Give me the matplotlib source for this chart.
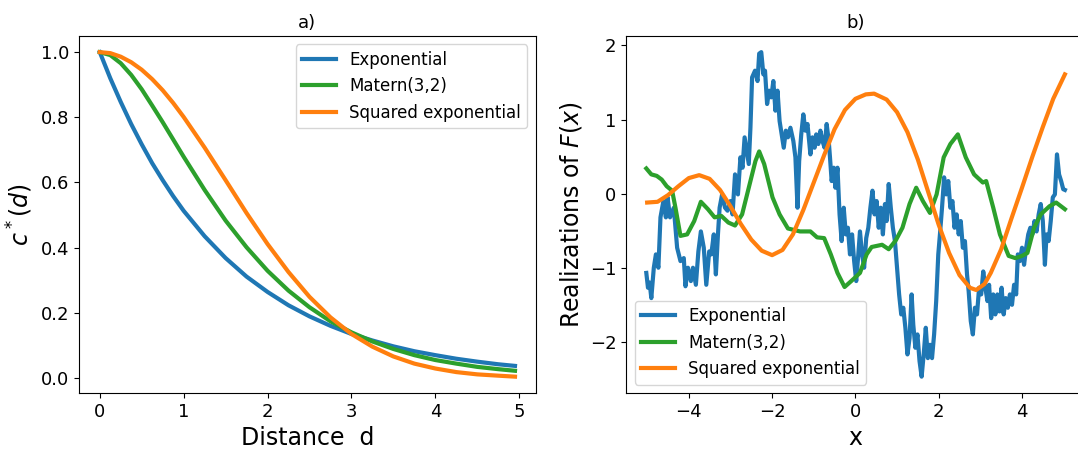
import matplotlib
matplotlib.use("Agg")
import matplotlib.pyplot as plt

# ---------------- panel a) covariance functions ----------------
d_vals = [0.0, 0.125, 0.25, 0.375, 0.5, 0.625, 0.75, 0.875, 1.0, 1.25, 1.5,
          1.75, 2.0, 2.25, 2.5, 2.75, 3.0, 3.25, 3.5, 3.75, 4.0, 4.25, 4.5,
          4.75, 4.95]
cov_exponential = [1.0, 0.920, 0.847, 0.779, 0.717, 0.659, 0.607, 0.558, 0.513,
                   0.435, 0.368, 0.311, 0.264, 0.223, 0.189, 0.160, 0.135,
                   0.115, 0.097, 0.082, 0.070, 0.059, 0.050, 0.042, 0.037]
cov_matern = [1.0, 0.991, 0.966, 0.930, 0.886, 0.836, 0.785, 0.732, 0.679,
              0.577, 0.483, 0.401, 0.329, 0.268, 0.217, 0.174, 0.140, 0.112,
              0.089, 0.070, 0.055, 0.044, 0.034, 0.027, 0.022]
cov_sqexp = [1.0, 0.997, 0.986, 0.969, 0.946, 0.917, 0.883, 0.844, 0.801,
             0.707, 0.607, 0.506, 0.411, 0.325, 0.249, 0.186, 0.135, 0.096,
             0.066, 0.044, 0.029, 0.018, 0.011, 0.007, 0.004]

# ---------------- panel b) realizations ----------------
x_exp = [-5.02, -4.98, -4.94, -4.90, -4.84, -4.79, -4.73, -4.68, -4.61, -4.55,
         -4.51, -4.45, -4.36, -4.28, -4.20, -4.12, -4.08, -4.02, -3.95, -3.90,
         -3.83, -3.77, -3.71, -3.64, -3.58, -3.51, -3.46, -3.40, -3.35, -3.30,
         -3.26, -3.20, -3.13, -3.07, -3.00, -2.95, -2.89, -2.82, -2.76, -2.71,
         -2.66, -2.61, -2.56, -2.52, -2.48, -2.41, -2.35, -2.31, -2.26, -2.21,
         -2.17, -2.12, -2.07, -2.02, -1.97, -1.92, -1.87, -1.82, -1.77, -1.72,
         -1.67, -1.62, -1.56, -1.49, -1.44, -1.39, -1.35, -1.30, -1.25, -1.20,
         -1.15, -1.08, -1.03, -0.98, -0.94, -0.89, -0.84, -0.79, -0.74, -0.69,
         -0.64, -0.61, -0.57, -0.52, -0.48, -0.43, -0.38, -0.33, -0.28, -0.23,
         -0.18, -0.13, -0.08, -0.03, 0.02, 0.07, 0.11, 0.16, 0.21, 0.26,
         0.31, 0.36, 0.41, 0.46, 0.51, 0.56, 0.61, 0.66, 0.71, 0.75,
         0.80, 0.85, 0.90, 0.95, 1.00, 1.05, 1.10, 1.15, 1.20, 1.25,
         1.30, 1.35, 1.39, 1.44, 1.49, 1.54, 1.59, 1.64, 1.69, 1.74,
         1.79, 1.84, 1.89, 1.94, 1.99, 2.03, 2.08, 2.13, 2.18, 2.23,
         2.28, 2.33, 2.38, 2.43, 2.48, 2.53, 2.58, 2.63, 2.68, 2.72,
         2.77, 2.82, 2.87, 2.92, 2.97, 3.02, 3.07, 3.12, 3.17, 3.21,
         3.26, 3.31, 3.36, 3.41, 3.46, 3.51, 3.56, 3.61, 3.66, 3.71,
         3.76, 3.81, 3.86, 3.90, 3.95, 4.00, 4.05, 4.10, 4.15, 4.20,
         4.25, 4.30, 4.35, 4.40, 4.45, 4.50, 4.55, 4.59, 4.64, 4.69,
         4.74, 4.79, 4.84, 4.89, 4.94, 4.99, 5.03]
y_exp = [-1.07, -1.27, -1.20, -1.41, -1.00, -0.82, -1.00, -0.32, -0.10, -0.32,
         -0.05, -0.32, -0.19, -0.73, -0.91, -0.87, -1.25, -1.00, -1.18, -1.00,
         -1.23, -0.78, -0.51, -0.73, -1.23, -0.78, -0.82, -0.55, -1.09, -0.55,
         -0.19, -0.01, -0.19, -0.23, -0.10, -0.28, 0.26, -0.01, 0.49, 0.35,
         0.76, 0.58, 0.40, 0.89, 1.57, 1.66, 1.52, 1.89, 1.91, 1.61,
         1.66, 1.21, 1.39, 1.30, 1.52, 1.12, 1.39, 0.98, 0.80, 0.62,
         0.85, 0.76, 0.89, 0.71, 0.49, -0.19, 0.44, 0.80, 1.07, 0.85,
         0.94, 0.53, 0.76, 0.62, 0.80, 0.67, 0.85, 0.71, 0.62, 0.94,
         0.71, 0.49, 0.17, 0.35, 0.08, 0.35, -0.28, -0.64, -0.19, -0.55,
         -0.46, -0.82, -0.55, -0.91, -1.18, -0.82, -0.51, -0.82, -1.00, -0.60,
         -0.46, -0.19, 0.04, -0.28, -0.10, -0.46, -0.19, -0.55, -0.14, -0.37,
         0.13, -0.19, -0.46, -0.64, -1.00, -1.36, -1.63, -1.54, -1.81, -2.17,
         -1.95, -1.36, -1.77, -2.08, -1.90, -2.26, -2.47, -2.17, -1.81, -2.22,
         -2.04, -2.22, -1.90, -1.45, -0.82, -0.55, -0.19, 0.22, -0.01, 0.17,
         -0.19, -0.10, -0.46, -0.28, -0.55, -0.37, -0.73, -0.64, -1.09, -1.32,
         -1.72, -1.90, -1.54, -1.63, -1.27, -1.36, -1.05, -1.27, -1.45, -1.23,
         -1.68, -1.36, -1.63, -1.36, -1.59, -1.27, -1.63, -1.41, -1.54, -1.36,
         -1.50, -1.23, -1.36, -0.82, -0.91, -0.73, -0.96, -0.73, -0.55, -0.46,
         -0.55, -0.37, -0.51, -0.28, -0.14, -0.37, -0.96, -0.55, -0.64, -0.37,
         -0.05, -0.01, 0.53, 0.26, 0.17, 0.06, 0.05]

x_mat = [-5.02, -4.90, -4.77, -4.65, -4.53, -4.40, -4.32, -4.20, -4.04, -3.87,
         -3.71, -3.54, -3.38, -3.22, -3.05, -2.89, -2.72, -2.56, -2.40, -2.31,
         -2.19, -1.99, -1.82, -1.62, -1.33, -1.08, -0.92, -0.75, -0.59, -0.43,
         -0.26, -0.10, 0.11, 0.27, 0.39, 0.64, 0.80, 0.97, 1.13, 1.30,
         1.46, 1.62, 1.79, 1.95, 2.12, 2.28, 2.46, 2.65, 2.85, 3.06,
         3.14, 3.31, 3.47, 3.68, 3.84, 4.00, 4.13, 4.29, 4.45, 4.66,
         4.82, 5.03]
y_mat = [0.34, 0.26, 0.24, 0.19, 0.10, 0.04, -0.19, -0.57, -0.55, -0.37,
         -0.11, -0.21, -0.32, -0.30, -0.39, -0.43, -0.28, 0.08, 0.44, 0.57,
         0.40, -0.05, -0.28, -0.47, -0.51, -0.51, -0.59, -0.60, -0.82, -1.07,
         -1.26, -1.18, -1.07, -0.82, -0.72, -0.69, -0.75, -0.63, -0.46, -0.14,
         0.08, -0.10, -0.26, -0.01, 0.49, 0.67, 0.80, 0.49, 0.26, 0.15,
         0.17, -0.19, -0.55, -0.84, -0.87, -0.84, -0.80, -0.46, -0.28, -0.17,
         -0.12, -0.21]

x_sq = [-5.0, -4.75, -4.5, -4.25, -4.0, -3.75, -3.5, -3.25, -3.0, -2.75,
        -2.5, -2.25, -2.0, -1.75, -1.5, -1.25, -1.0, -0.75, -0.5, -0.25,
        0.0, 0.25, 0.45, 0.75, 1.0, 1.25, 1.5, 1.75, 2.0, 2.25,
        2.5, 2.75, 2.9, 3.1, 3.25, 3.5, 3.75, 4.0, 4.25, 4.5,
        4.75, 5.03]
y_sq = [-0.12, -0.11, -0.02, 0.10, 0.21, 0.25, 0.20, 0.05, -0.17, -0.41,
        -0.62, -0.77, -0.83, -0.76, -0.55, -0.22, 0.15, 0.52, 0.87, 1.13,
        1.28, 1.34, 1.35, 1.27, 1.10, 0.83, 0.46, 0.02, -0.42, -0.80,
        -1.10, -1.27, -1.30, -1.22, -1.07, -0.75, -0.33, 0.08, 0.50, 0.90,
        1.28, 1.61]

labels = ["Exponential", "Matern(3,2)", "Squared exponential"]
colors = ["tab:blue", "tab:green", "tab:orange"]
lw = 3.0

fig = plt.figure(figsize=(10.78, 4.49), dpi=100)
ax1 = fig.add_axes([0.0733, 0.125, 0.4237, 0.795])
ax2 = fig.add_axes([0.581, 0.125, 0.425, 0.795])

ax1.plot(d_vals, cov_exponential, color=colors[0], lw=lw, label=labels[0])
ax1.plot(d_vals, cov_matern, color=colors[1], lw=lw, label=labels[1])
ax1.plot(d_vals, cov_sqexp, color=colors[2], lw=lw, label=labels[2])
ax1.set_title("a)", fontsize=13)
ax1.set_xlabel("Distance  d", fontsize=17)
ax1.set_ylabel("$c^*(d)$", fontsize=17)
ax1.tick_params(labelsize=13)
ax1.legend(loc="upper right", fontsize=12)

ax2.plot(x_exp, y_exp, color=colors[0], lw=lw, label=labels[0])
ax2.plot(x_mat, y_mat, color=colors[1], lw=lw, label=labels[1])
ax2.plot(x_sq, y_sq, color=colors[2], lw=lw, label=labels[2])
ax2.set_title("b)", fontsize=13)
ax2.set_xlabel("x", fontsize=17)
ax2.set_ylabel("Realizations of $F(x)$", fontsize=17)
ax2.set_xlim(-5.5, 5.5)
ax2.tick_params(labelsize=13)
ax2.legend(loc="lower left", fontsize=12)

fig.savefig("out.png", dpi=100)
